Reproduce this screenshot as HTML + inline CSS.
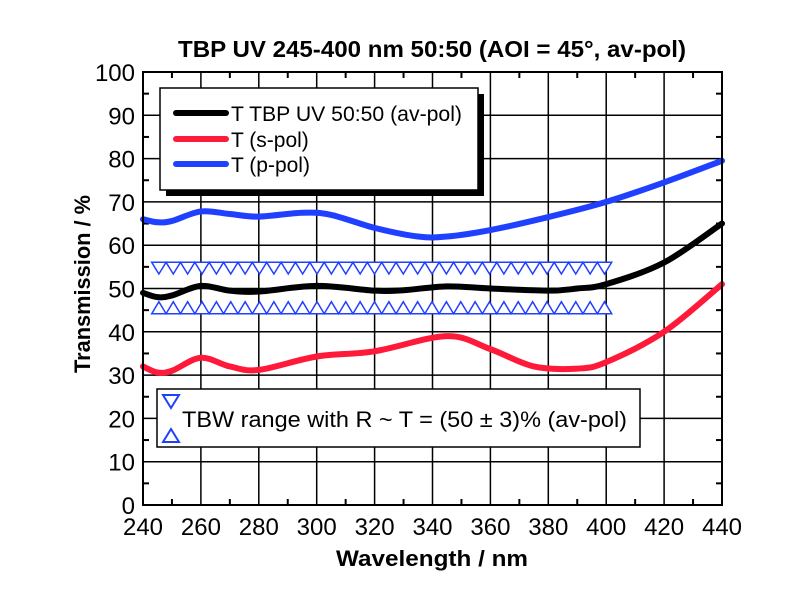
<!DOCTYPE html>
<html><head><meta charset="utf-8"><style>
html,body{margin:0;padding:0;background:#fff;}
svg{display:block;font-family:"Liberation Sans",Arial,sans-serif;}
</style></head><body>
<svg id="s" width="800" height="600" xmlns="http://www.w3.org/2000/svg">
<rect width="800" height="600" fill="#fff"/>
<text x="432" y="57" font-size="23.5" font-weight="bold" text-anchor="middle" textLength="508" lengthAdjust="spacingAndGlyphs">TBP UV 245-400 nm 50:50 (AOI = 45°, av-pol)</text>
<g id="grid" stroke="#000" stroke-width="1.5"></g>
<g id="ticks" stroke="#000" stroke-width="2"></g>
<g id="tri" stroke="#2040ff" stroke-width="1.5" fill="#fff" stroke-linejoin="miter"></g>
<g id="curves" fill="none" stroke-width="6" stroke-linejoin="round" stroke-linecap="round"></g>
<rect x="143" y="72" width="579" height="433" fill="none" stroke="#000" stroke-width="2"/>
<g id="labels" font-size="24" fill="#000"></g>
<text x="432" y="566" font-size="22" font-weight="bold" text-anchor="middle" textLength="192" lengthAdjust="spacingAndGlyphs">Wavelength / nm</text>
<text transform="translate(90,284) rotate(-90)" font-size="22" font-weight="bold" text-anchor="middle" textLength="178" lengthAdjust="spacingAndGlyphs">Transmission / %</text>
<rect x="166" y="94" width="318" height="102" fill="#000"/>
<rect x="160" y="88" width="318" height="102" fill="#fff" stroke="#000" stroke-width="1.5"/>
<line x1="176" y1="113" x2="226" y2="113" stroke="#000" stroke-width="6" stroke-linecap="round"/>
<line x1="176" y1="139" x2="226" y2="139" stroke="#ff1a3a" stroke-width="6" stroke-linecap="round"/>
<line x1="176" y1="164" x2="226" y2="164" stroke="#2040ff" stroke-width="6" stroke-linecap="round"/>
<text x="231" y="121" font-size="21" textLength="231" lengthAdjust="spacingAndGlyphs">T TBP UV 50:50 (av-pol)</text>
<text x="231" y="147" font-size="21">T (s-pol)</text>
<text x="231" y="172" font-size="21">T (p-pol)</text>
<rect x="157" y="389" width="483" height="58" fill="#fff" stroke="#000" stroke-width="1.5"/>
<polygon points="163,395 179,395 171,408" fill="#fff" stroke="#2040ff" stroke-width="2"/>
<polygon points="163,442 179,442 171,429" fill="#fff" stroke="#2040ff" stroke-width="2"/>
<text x="182" y="427" font-size="22" textLength="445" lengthAdjust="spacingAndGlyphs">TBW range with R ~ T = (50 ± 3)% (av-pol)</text>
</svg>
<script>
const X=w=>143+(w-240)*579/200, Y=v=>505-v*4.33;
const NS="http://www.w3.org/2000/svg";
function el(p,t,a,txt){const e=document.createElementNS(NS,t);for(const k in a)e.setAttribute(k,a[k]);if(txt!==undefined)e.textContent=txt;document.getElementById(p).appendChild(e);}
for(let w=260;w<440;w+=20)el('grid','line',{x1:X(w),y1:72,x2:X(w),y2:505});
for(let v=10;v<100;v+=10)el('grid','line',{x1:143,y1:Y(v),x2:722,y2:Y(v)});
for(let w=250;w<440;w+=20){el('ticks','line',{x1:X(w),y1:505,x2:X(w),y2:499});el('ticks','line',{x1:X(w),y1:72,x2:X(w),y2:78});}
for(let v=5;v<100;v+=10){el('ticks','line',{x1:143,y1:Y(v),x2:149,y2:Y(v)});el('ticks','line',{x1:722,y1:Y(v),x2:716,y2:Y(v)});}
for(let w=240;w<=440;w+=20)el('labels','text',{x:X(w),y:535,'text-anchor':'middle'},w);
for(let v=0;v<=100;v+=10)el('labels','text',{x:135,y:Y(v)+9,'text-anchor':'end'},v);
const n=32,x0=151.7,dw=(611.7-151.7)/n;
let d1=`M${x0},262.3`,d2=`M${x0},313.7`;
for(let i=0;i<n;i++){const a=x0+i*dw;d1+=` L${a+dw/2},274 L${a+dw},262.3`;d2+=` L${a+dw/2},301.7 L${a+dw},313.7`;}
d1+=` Z`;d2+=` Z`;
el('tri','path',{d:d1});el('tri','path',{d:d2});
function path(d,c){const p=d.map(q=>[X(q[0]),Y(q[1])]);let s=`M${p[0][0]},${p[0][1]}`;
 for(let i=0;i<p.length-1;i++){const a=p[Math.max(0,i-1)],b=p[i],c2=p[i+1],e=p[Math.min(p.length-1,i+2)];
  s+=` C${b[0]+(c2[0]-a[0])/6},${b[1]+(c2[1]-a[1])/6} ${c2[0]-(e[0]-b[0])/6},${c2[1]-(e[1]-b[1])/6} ${c2[0]},${c2[1]}`;}
 el('curves','path',{d:s,stroke:c});}
path([[240,66],[245,65.3],[250,65.6],[260,67.8],[270,67.2],[280,66.6],[295,67.5],[305,67],[320,64],[335,62],[345,62],[360,63.5],[380,66.5],[400,70],[420,74.5],[440,79.5]],'#2040ff');
path([[240,32],[245,30.6],[250,31],[260,34],[270,32],[280,31.2],[300,34.3],[320,35.5],[345,39],[360,36],[375,32],[390,31.5],[400,33],[420,40],[440,51]],'#ff1a3a');
path([[240,49],[245,48],[250,48.4],[260,50.6],[270,49.5],[280,49.3],[300,50.6],[320,49.5],[330,49.6],[345,50.5],[360,50],[380,49.5],[390,50],[400,51],[420,56],[440,65]],'#000');
</script>
</body></html>
